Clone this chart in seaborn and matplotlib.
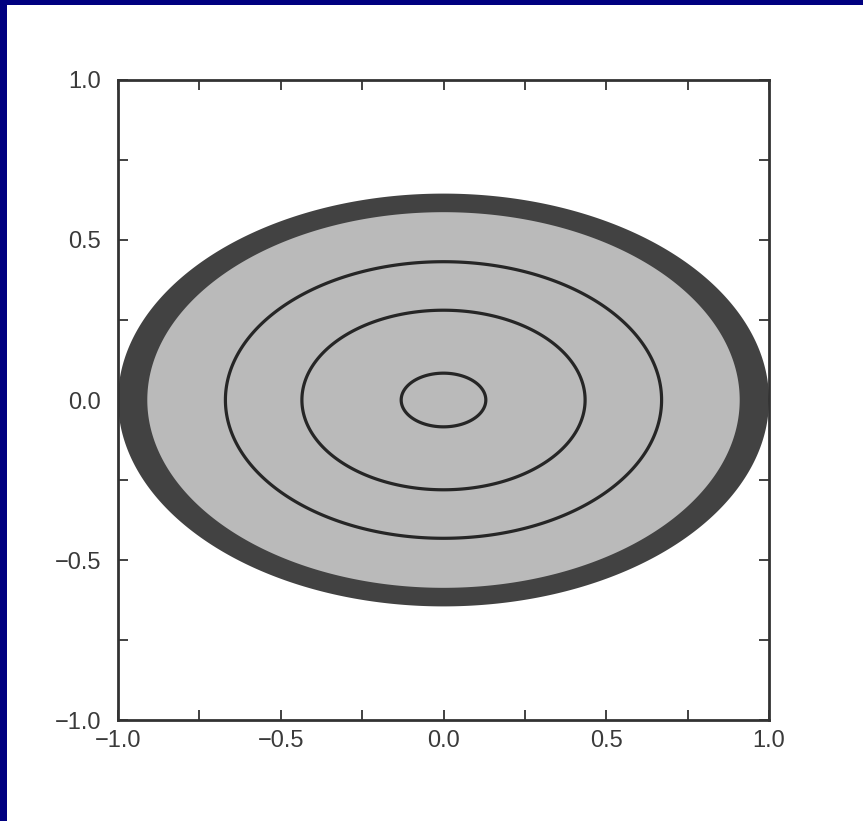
import numpy as np
import pandas as pd
import matplotlib
matplotlib.use("Agg")
import matplotlib.pyplot as plt
from matplotlib.patches import Rectangle
from matplotlib.ticker import MultipleLocator
import seaborn as sns

# ---- data ----
aspect_ratio = 0.645            # semi-axis y / semi-axis x
contour_radii = [0.13, 0.435, 0.67]
fill_radius = 0.91              # inner edge of dark ring
ring_radius = 1.0               # outer edge of dark ring
x_ticks = [-1.0, -0.5, 0.0, 0.5, 1.0]
y_ticks = [-1.0, -0.5, 0.0, 0.5, 1.0]

sns.set_theme(style="white")
plt.rcParams['font.family'] = ['Liberation Sans', 'DejaVu Sans']

fig = plt.figure(figsize=(8.63, 8.21), dpi=100)
fig.patch.set_facecolor('white')
# navy frame strips (top and left)
fig.add_artist(Rectangle((0, 1 - 5/821), 1, 5/821, transform=fig.transFigure,
                         facecolor='#000080', edgecolor='none'))
fig.add_artist(Rectangle((0, 0), 7/863, 1, transform=fig.transFigure,
                         facecolor='#000080', edgecolor='none'))
ax = fig.add_axes([118/863, 101/821, 651/863, 640/821])
ax.set_facecolor('white')

t = np.linspace(0, 2*np.pi, 720, endpoint=False)

def ellipse(r):
    return r*np.cos(t), r*aspect_ratio*np.sin(t)

xo, yo = ellipse(ring_radius)
ax.fill(xo, yo, color='#424242', lw=0, zorder=1)
xi, yi = ellipse(fill_radius)
ax.fill(xi, yi, color='#bababa', lw=0, zorder=2)

rows = []
for i, r in enumerate(contour_radii):
    xs, ys = ellipse(r)
    rows.append(pd.DataFrame({'x': xs, 'y': ys, 'level': i}))
df = pd.concat(rows, ignore_index=True)
for lvl, g in df.groupby('level'):
    ax.fill(g['x'], g['y'], fill=False, edgecolor='#262626', lw=2.3,
            joinstyle='round', zorder=3)

ax.set_xlim(-1, 1)
ax.set_ylim(-1, 1)
ax.set_xticks(x_ticks)
ax.set_yticks(y_ticks)
ax.set_xticklabels([f"{v:.1f}".replace('-', '\u2212') for v in x_ticks])
ax.set_yticklabels([f"{v:.1f}".replace('-', '\u2212') for v in y_ticks])
ax.xaxis.set_minor_locator(MultipleLocator(0.25))
ax.yaxis.set_minor_locator(MultipleLocator(0.25))
ax.set_xlabel('')
ax.set_ylabel('')
for s in ax.spines.values():
    s.set_visible(True)
    s.set_color('#333333')
    s.set_linewidth(2.0)
    s.set_zorder(5)
ax.tick_params(which='both', direction='in', top=True, right=True, bottom=True, left=True,
               color='#333333', width=1.3, labelsize=17, labelcolor='#3a3a3a', length=7)
ax.tick_params(axis='y', which='major', pad=12)
ax.tick_params(axis='x', which='major', pad=7)

fig.savefig('out.png', dpi=100)
